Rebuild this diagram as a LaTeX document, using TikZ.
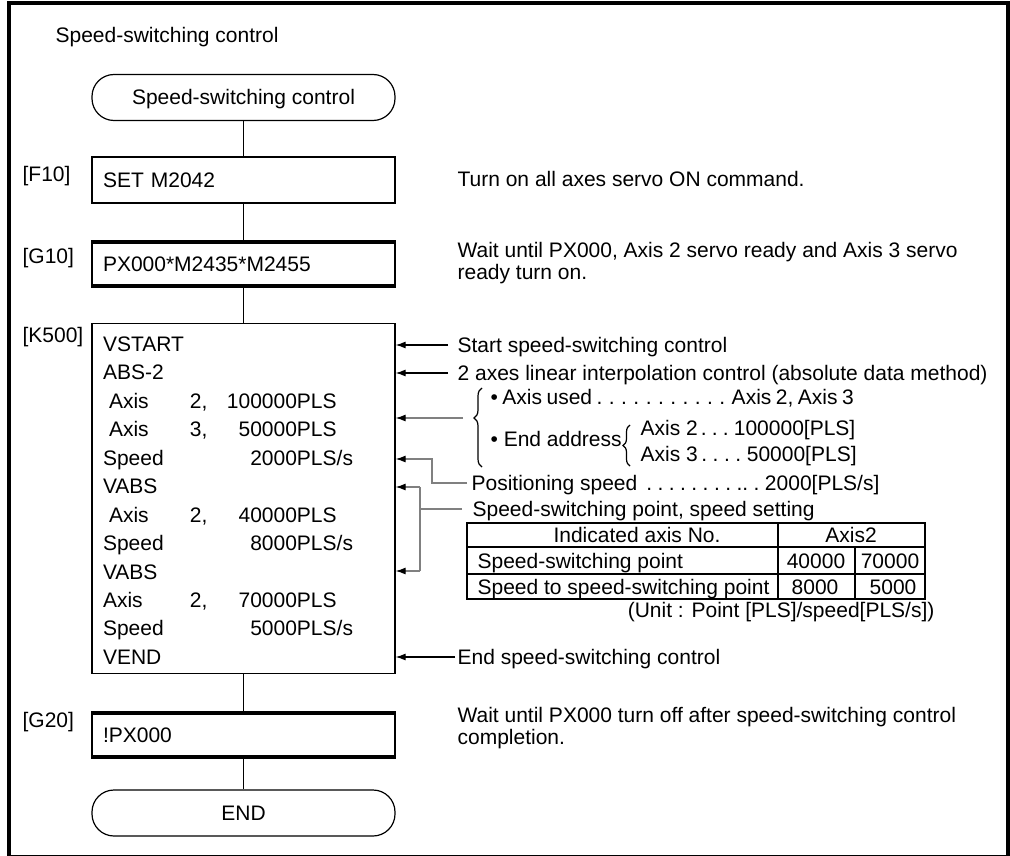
\documentclass[tikz,border=0pt]{standalone}
\usepackage{fontspec}
\setmainfont{Liberation Sans}
\usetikzlibrary{arrows.meta,decorations.pathreplacing}

\begin{document}
\begin{tikzpicture}[x=1pt, y=-1pt, line width=1.2pt,
  every node/.style={font=\fontsize{21}{20}\selectfont},
  stepbox/.style={draw, minimum height=46pt, text width=281pt, inner xsep=11pt, text height=15pt, text depth=0pt, align=left},
  termbox/.style={draw, rounded corners=22pt, minimum width=303pt, minimum height=46pt, text height=15pt, text depth=0pt},
  tag/.style={anchor=west, inner sep=0pt, text height=15pt, text depth=0pt},
  note/.style={anchor=west, inner sep=0pt, align=left, font=\fontsize{21}{22}\selectfont},
  cell/.style={inner sep=0pt, text height=15pt, text depth=0pt},
  arr/.style={-{Latex[length=10pt,width=7pt]}},
  garr/.style={draw=gray, -{Latex[length=10pt,width=7pt,black]}},
  waitbar/.style={line width=4pt}]
\fill[white] (0,0) rectangle (1010,856);
\useasboundingbox (0,0) rectangle (1010,856);
\draw[line width=4pt] (9,856) -- (9,3) -- (1008,3) -- (1008,856);
\draw (7,855.5) -- (1010,855.5);

\node[tag] (title) at (55,35) {Speed-switching control};
\node[termbox] (start) at (243.5,97.5) {Speed-switching control};
\node[stepbox] (f10) at (243.5,180) {SET M2042};
\node[stepbox] (g10) at (243.5,264) {PX000*M2435*M2455};
\node[stepbox, minimum height=350pt] (k500) at (243.5,498.5) {};
\node[stepbox] (g20) at (243.5,735) {!PX000};
\node[termbox] (stop) at (243.5,813) {END};
\foreach \b in {g10,g20} {
  \draw[waitbar] ([yshift=-2pt]\b.north west) -- ([yshift=-2pt]\b.north east);
  \draw[waitbar] ([yshift=2pt]\b.south west) -- ([yshift=2pt]\b.south east);
}
\draw (start) -- (f10);
\draw (f10) -- (g10);
\draw (g10) -- (k500);
\draw (k500) -- (g20);
\draw (g20) -- (stop);

\node[tag] (tf10) at (22,174) {[F10]};
\node[tag] (tg10) at (22,256) {[G10]};
\node[tag] (tk500) at (22,335) {[K500]};
\node[tag] (tg20) at (22,720) {[G20]};

\node[anchor=north west, inner sep=0pt, font=\fontsize{21}{28.45}\selectfont] (k500txt) at ([shift={(11,8)}]k500.north west) {%
\begin{tabular}{@{}p{87pt}@{}p{107pt}@{}l@{}}
VSTART && \\
ABS-2 && \\
\hspace{6pt}Axis & 2,\hfill 100000 & PLS \\
\hspace{6pt}Axis & 3,\hfill 50000 & PLS \\
Speed & \hfill 2000 & PLS/s \\
VABS && \\
\hspace{6pt}Axis & 2,\hfill 40000 & PLS \\
Speed & \hfill 8000 & PLS/s \\
VABS && \\
Axis & 2,\hfill 70000 & PLS \\
Speed & \hfill 5000 & PLS/s \\
VEND &&
\end{tabular}};

\node[tag] (n1) at (457,179) {Turn on all axes servo ON command.};
\node[note] (n2) at (457,263) {Wait until PX000, Axis 2 servo ready and Axis 3 servo\\ready turn on.};
\node[tag] (n3) at (457,345) {Start speed-switching control};
\node[tag] (n4) at (457,373) {2 axes linear interpolation control (absolute data method)};
\node[tag, execute at begin node={\spaceskip=4.5pt}] (n5) at (490,397) {• Axis used . . . . . . . . . . . Axis 2, Axis 3};
\node[tag] (n6) at (490,439) {• End address};
\node[tag, execute at begin node={\spaceskip=3.2pt}] (n7) at (640,428) {Axis\hspace{5.8pt}2 . . . 100000[PLS]};
\node[tag, execute at begin node={\spaceskip=3.6pt}] (n8) at (640,454) {Axis\hspace{5.8pt}3 . . . . 50000[PLS]};
\node[tag, execute at begin node={\spaceskip=3.5pt}] (n9) at (471,483) {Positioning\hspace{5.8pt}speed\hspace{9pt}. . . . . . . . .. . 2000[PLS/s]};
\node[tag] (n10) at (472,509) {Speed-switching point, speed setting};
\node[tag, anchor=east] (n11) at (935,610) {(Unit : Point [PLS]/speed[PLS/s])};
\node[tag] (n12) at (457,657) {End speed-switching control};
\node[note] (n13) at (457,728) {Wait until PX000 turn off after speed-switching control\\completion.};

\draw[decorate, decoration={brace, amplitude=8pt, aspect=0.62}] (482,467) -- (482,388);
\draw[decorate, decoration={brace, amplitude=7pt}] (630,466) -- (630,425);

\draw[line width=1.6pt] (467,523) rectangle (925,599);
\draw (467,574) -- (925,574) (778,523) -- (778,599) (855,547) -- (855,599);
\draw[line width=1.6pt] (467,547) -- (925,547);
\node[cell] (c1) at (637,535) {Indicated axis No.};
\node[cell] (c2) at (851,535) {Axis2};
\node[cell, anchor=west] (c3) at (477,560.5) {Speed-switching point};
\node[cell] (c4) at (816,560.5) {40000};
\node[cell] (c5) at (890,560.5) {70000};
\node[cell, anchor=west] (c6) at (477,586.5) {Speed to speed-switching point};
\node[cell] (c7) at (815,586.5) {8000};
\node[cell] (c8) at (893,586.5) {5000};

\coordinate (bt) at (463,418);
\coordinate (r5) at (k500.east |- 0,459);
\coordinate (r6) at (k500.east |- 0,487);
\coordinate (r9) at (k500.east |- 0,571);
\draw[arr] ([xshift=-9pt]n3.west) -- (n3.west -| k500.east);
\draw[arr] ([xshift=-9pt]n4.west) -- (n4.west -| k500.east);
\draw[garr] (bt) -- (bt -| k500.east);
\draw[garr] ([xshift=-4pt]n9.west) -- ++(-35,0) |- (r5);
\draw[draw=gray] ([xshift=-10pt]n10.west) -- ++(-42,0) coordinate (bk);
\draw[draw=gray] (bk |- r6) -- (bk |- r9);
\draw[garr] (bk |- r6) -- (r6);
\draw[garr] (bk |- r9) -- (r9);
\draw[arr] ([xshift=-2pt]n12.west) -- (n12.west -| k500.east);
\end{tikzpicture}
\end{document}
